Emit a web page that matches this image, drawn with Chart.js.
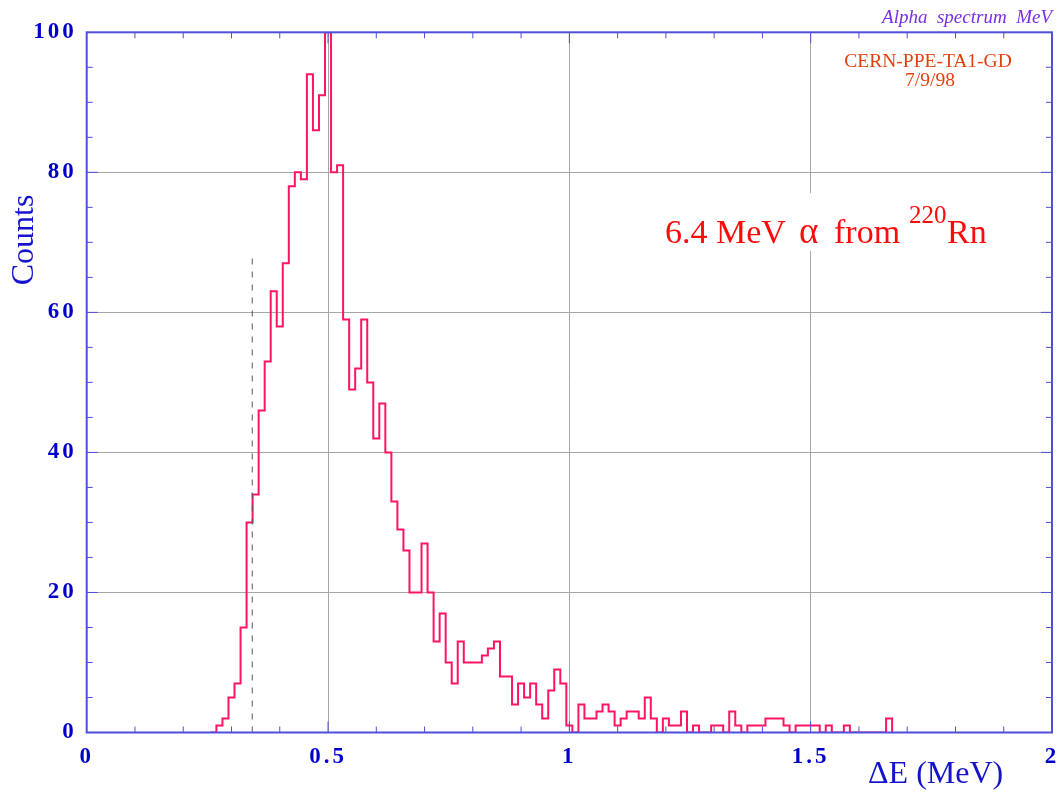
<!DOCTYPE html>
<html>
<head>
<meta charset="utf-8">
<script src="https://cdn.jsdelivr.net/npm/chart.js@4.4.1/dist/chart.umd.min.js"></script>
<style>
  html, body { margin: 0; padding: 0; background: #ffffff; }
  #wrap { width: 1060px; height: 792px; position: relative; }
</style>
</head>
<body>
<div id="wrap"><canvas id="spectrum"></canvas></div>
<script>
// Histogram binning (MeV)
const binWidth = 0.0125;
const firstBinCenter = 0.275;

// Counts per bin, starting at firstBinCenter
const counts = [
  1, 2, 5, 7, 15, 30, 34, 46, 53, 63,
  58, 67, 78, 80, 79, 94, 86, 91, 100, 80,
  81, 59, 49, 52, 59, 50, 42, 47, 40, 33,
  29, 26, 20, 20, 27, 20, 13, 17, 10, 7,
  13, 10, 10, 10, 11, 12, 13, 8, 8, 4,
  7, 5, 7, 4, 2, 6, 9, 7, 1, 0,
  4, 2, 2, 3, 4, 3, 1, 2, 3, 3,
  2, 5, 2, 0, 2, 1, 1, 3, 0, 1,
  0, 0, 1, 1, 0, 3, 1, 0, 1, 1,
  1, 2, 2, 2, 1, 0, 1, 1, 1, 1,
  0, 1, 0, 0, 1, 0, 0, 0, 0, 0,
  0, 2
];

// Threshold marker (dashed vertical line)
const cutEnergy = 0.343;
const cutHeight = [0, 68];

// Axis ticks and labels
const xTicks = [0, 0.5, 1, 1.5, 2];
const xTickLabels = ['0', '0.5', '1', '1.5', '2'];
const yTicks = [0, 20, 40, 60, 80, 100];
const yTickLabels = ['0', '20', '40', '60', '80', '100'];
const xMinorStep = 0.1;
const yMinorStep = 5;

// Step outline built from the bin edges
const leftEdge = firstBinCenter - binWidth / 2;
const histPoints = [{ x: leftEdge - binWidth, y: 0 }];
counts.forEach((c, i) => histPoints.push({ x: leftEdge + i * binWidth, y: c }));
histPoints.push({ x: leftEdge + counts.length * binWidth, y: 0 });

const cutPoints = cutHeight.map(h => ({ x: cutEnergy, y: h }));

const AXIS_BLUE = '#4f4fd8';
const LABEL_BLUE = '#0000cc';
const SERIF = '"Liberation Serif", "Times New Roman", serif';

const spacing = {
  id: 'spacing',
  beforeDraw(chart) { chart.ctx.letterSpacing = '3px'; },
  afterDraw(chart) { chart.ctx.letterSpacing = '0px'; }
};

const frame = {
  id: 'frame',
  afterDatasetsDraw(chart) {
    const { ctx, chartArea: a, scales: { x, y } } = chart;
    ctx.save();
    ctx.strokeStyle = AXIS_BLUE;
    ctx.lineWidth = 1;
    ctx.beginPath();
    const nx = Math.round((x.max - x.min) / xMinorStep);
    for (let i = 1; i < nx; i++) {
      const px = x.getPixelForValue(x.min + i * xMinorStep);
      const len = (i % 5 === 0) ? 11 : 6;
      ctx.moveTo(px, a.bottom); ctx.lineTo(px, a.bottom - len);
      ctx.moveTo(px, a.top); ctx.lineTo(px, a.top + len);
    }
    const ny = Math.round((y.max - y.min) / yMinorStep);
    for (let j = 1; j < ny; j++) {
      const py = y.getPixelForValue(y.min + j * yMinorStep);
      const len = (j % 4 === 0) ? 11 : 6;
      ctx.moveTo(a.left, py); ctx.lineTo(a.left + len, py);
      ctx.moveTo(a.right, py); ctx.lineTo(a.right - len, py);
    }
    ctx.stroke();
    ctx.lineWidth = 2;
    ctx.strokeRect(a.left, a.top, a.right - a.left, a.bottom - a.top);
    ctx.restore();
  },
  afterDraw(chart) {
    const ctx = chart.ctx;
    ctx.save();
    ctx.letterSpacing = '0px';
    ctx.textBaseline = 'alphabetic';

    // Axis titles
    ctx.fillStyle = '#1414cc';
    ctx.font = '32px ' + SERIF;
    ctx.save();
    ctx.translate(33, 240);
    ctx.rotate(-Math.PI / 2);
    ctx.textAlign = 'center';
    ctx.fillText('Counts', 0, 0);
    ctx.restore();
    ctx.textAlign = 'left';
    ctx.fillText('\u0394E (MeV)', 868, 783);

    // Header
    ctx.fillStyle = '#7a2ee6';
    ctx.font = 'italic 19px ' + SERIF;
    ctx.textAlign = 'right';
    ctx.fillText('Alpha  spectrum  MeV', 1052, 23);

    ctx.fillStyle = '#e4400e';
    ctx.font = '19.5px ' + SERIF;
    ctx.textAlign = 'center';
    ctx.fillText('CERN-PPE-TA1-GD', 928, 67);
    ctx.fillText('7/9/98', 930, 86);

    // Annotation with white backing
    ctx.fillStyle = '#ffffff';
    ctx.fillRect(655, 193, 340, 58);
    ctx.fillStyle = '#ff0a0a';
    ctx.textAlign = 'left';
    ctx.font = '34px ' + SERIF;
    ctx.fillText('6.4 MeV', 665, 243);
    ctx.font = '37px ' + SERIF;
    ctx.fillText('\u03B1', 799, 243);
    ctx.font = '34px ' + SERIF;
    ctx.fillText('from', 834, 243);
    ctx.font = '25px ' + SERIF;
    ctx.fillText('220', 909, 223);
    ctx.font = '34px ' + SERIF;
    ctx.fillText('Rn', 947, 243);
    ctx.restore();
  }
};

new Chart(document.getElementById('spectrum'), {
  type: 'line',
  data: {
    datasets: [
      {
        data: cutPoints,
        borderColor: '#555555',
        borderWidth: 1,
        borderDash: [6, 7],
        pointRadius: 0,
        fill: false
      },
      {
        data: histPoints,
        stepped: 'before',
        borderColor: 'rgb(255, 20, 100)',
        borderWidth: 2,
        pointRadius: 0,
        fill: false
      }
    ]
  },
  options: {
    responsive: true,
    maintainAspectRatio: false,
    animation: false,
    events: [],
    layout: { padding: { top: 32.3, right: 8, left: 0, bottom: 0 } },
    plugins: { legend: { display: false }, tooltip: { enabled: false }, title: { display: false } },
    scales: {
      x: {
        type: 'linear',
        min: 0,
        max: 2,
        afterBuildTicks(s) { s.ticks = xTicks.map(v => ({ value: v })); },
        afterFit(s) { s.height = 59.5; s.paddingLeft = 0; s.paddingRight = 0; },
        ticks: {
          autoSkip: false,
          maxRotation: 0,
          padding: 11,
          color: LABEL_BLUE,
          font: { family: SERIF, weight: 'bold', size: 23 },
          callback: (v) => xTickLabels[xTicks.indexOf(v)]
        },
        grid: { color: '#a6a6a6', lineWidth: 1, drawTicks: false },
        border: { display: false }
      },
      y: {
        min: 0,
        max: 100,
        afterBuildTicks(s) { s.ticks = yTicks.map(v => ({ value: v })); },
        afterFit(s) { s.width = 86.7; s.paddingTop = 0; s.paddingBottom = 0; },
        ticks: {
          padding: 10,
          color: LABEL_BLUE,
          font: { family: SERIF, weight: 'bold', size: 23 },
          callback: (v) => yTickLabels[yTicks.indexOf(v)]
        },
        grid: { color: '#a6a6a6', lineWidth: 1, drawTicks: false },
        border: { display: false }
      }
    }
  },
  plugins: [spacing, frame]
});
</script>
</body>
</html>
